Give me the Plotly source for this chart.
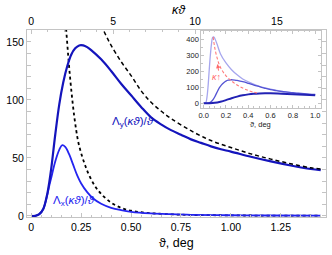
import plotly.graph_objects as go

# ---------------- main panel data ----------------
theta_y = [0.0, 0.02, 0.04, 0.06, 0.08, 0.09, 0.10, 0.12, 0.14, 0.16, 0.18, 0.20, 0.22, 0.24,
           0.26, 0.28, 0.30, 0.35, 0.40, 0.45, 0.50, 0.55, 0.60, 0.65, 0.70, 0.75, 0.80,
           0.85, 0.90, 0.95, 1.00, 1.10, 1.20, 1.30, 1.40, 1.45]
lambda_y = [0.0, 0.1, 1.5, 6.0, 19.0, 29.0, 41.0, 70.0, 96.0, 115.0, 129.0, 139.0, 144.5, 147.0,
            147.0, 145.5, 143.0, 135.0, 125.0, 114.0, 104.0, 94.0, 85.0, 79.0, 74.0, 70.0, 66.0,
            63.0, 60.0, 57.5, 55.5, 51.0, 47.0, 43.5, 40.5, 39.5]

theta_x = [0.0, 0.02, 0.04, 0.06, 0.08, 0.09, 0.10, 0.12, 0.14, 0.155, 0.17, 0.19, 0.21, 0.23,
           0.25, 0.28, 0.31, 0.35, 0.40, 0.45, 0.50, 0.60, 0.70, 0.80, 1.00, 1.20, 1.45]
lambda_x = [0.0, 0.1, 1.5, 6.0, 18.0, 26.0, 33.0, 47.0, 57.0, 61.0, 59.5, 53.0, 44.0, 35.0,
            28.0, 20.5, 15.0, 10.5, 7.0, 5.0, 3.6, 2.2, 1.5, 1.0, 0.6, 0.4, 0.3]

theta_dash = [0.33, 0.35, 0.36, 0.38, 0.40, 0.45, 0.50, 0.55, 0.60, 0.65, 0.70, 0.80, 0.90,
              1.00, 1.10, 1.20, 1.30, 1.40, 1.45]
asym_y = [176.0, 166.0, 161.0, 153.5, 147.0, 133.0, 121.0, 108.0, 98.0, 90.5, 84.0, 73.5, 65.0,
          59.0, 53.5, 49.0, 45.0, 41.5, 40.5]

theta_dot = [0.165, 0.175, 0.185, 0.195, 0.205, 0.215, 0.225, 0.235, 0.25, 0.27, 0.29, 0.32,
             0.35, 0.40, 0.45, 0.50, 0.55, 0.60, 0.70, 0.80, 1.00, 1.20, 1.45]
asym_x = [182.0, 160.0, 138.0, 118.0, 101.0, 86.0, 74.0, 64.0, 54.0, 43.5, 35.0, 25.5, 19.0,
          11.5, 7.0, 4.5, 3.2, 2.4, 1.4, 0.9, 0.5, 0.3, 0.2]

# ---------------- inset data ----------------
inset_theta_light = [0.0, 0.01, 0.02, 0.03, 0.04, 0.05, 0.06, 0.07, 0.08, 0.09, 0.10, 0.12,
                     0.15, 0.20, 0.25, 0.30, 0.35, 0.40, 0.50, 0.60, 0.70, 0.80, 0.90, 1.00]
inset_light = [0.0, 0.0, 5.0, 40.0, 110.0, 210.0, 300.0, 370.0, 410.0, 415.0, 405.0, 370.0,
               310.0, 252.0, 210.0, 178.0, 152.0, 134.0, 106.0, 88.0, 75.0, 65.0, 58.0, 52.0]

inset_theta_dark = [0.0, 0.05, 0.10, 0.15, 0.20, 0.25, 0.30, 0.35, 0.40, 0.45, 0.50, 0.55,
                    0.60, 0.70, 0.80, 0.90, 1.00]
inset_dark = [0.0, 0.5, 3.0, 10.0, 20.0, 32.0, 42.0, 50.0, 56.0, 60.0, 62.0, 63.0,
              62.5, 60.0, 57.0, 53.5, 50.0]

inset_theta_peak = [0.085, 0.10, 0.12, 0.15, 0.20, 0.25, 0.30, 0.35, 0.40, 0.45, 0.50]
inset_peak = [415.0, 345.0, 285.0, 225.0, 172.0, 140.0, 114.0, 95.0, 80.0, 69.0, 62.0]

# ---------------- ticks ----------------
bottom_ticks = [0, 0.25, 0.5, 0.75, 1.0, 1.25]
bottom_ticktext = ["0", "0.25", "0.50", "0.75", "1.00", "1.25"]
top_ticks = [0, 5, 10, 15]
y_ticks = [0, 50, 100, 150]
inset_x_ticks = [0, 0.2, 0.4, 0.6, 0.8, 1.0]
inset_x_ticktext = ["0.0", "0.2", "0.4", "0.6", "0.8", "1.0"]
inset_y_ticks = [0, 100, 200, 300, 400]

KAPPA = 12.19  # kappa (1/deg) relating top axis to bottom axis
X_RANGE = [-0.0215, 1.4765]
Y_RANGE = [-0.9, 160.3]

FONT = "Liberation Sans, Arial, sans-serif"
FRAME = "#c4c4c4"

fig = go.Figure()

# main curves
fig.add_trace(go.Scatter(x=theta_dot, y=asym_x, mode="lines", line=dict(color="black", width=1.8, dash="dot", shape="spline"),
                         xaxis="x", yaxis="y", hoverinfo="skip"))
fig.add_trace(go.Scatter(x=theta_x, y=lambda_x, mode="lines", line=dict(color="#2424f0", width=1.8, shape="spline"),
                         xaxis="x", yaxis="y"))
fig.add_trace(go.Scatter(x=theta_y, y=lambda_y, mode="lines", line=dict(color="#1414bc", width=2.2, shape="spline"),
                         xaxis="x", yaxis="y"))
fig.add_trace(go.Scatter(x=theta_dash, y=asym_y, mode="lines", line=dict(color="black", width=1.5, dash="4px,3px", shape="spline"),
                         xaxis="x", yaxis="y"))
# invisible trace for top axis
fig.add_trace(go.Scatter(x=[X_RANGE[0] * KAPPA, X_RANGE[1] * KAPPA], y=[0, 0], mode="lines",
                         line=dict(width=0, color="rgba(0,0,0,0)"), xaxis="x2", yaxis="y", hoverinfo="skip"))

# inset curves
inset_theta_mid = [t for t in theta_y if t <= 1.0]
inset_mid = lambda_y[:len(inset_theta_mid)]
fig.add_trace(go.Scatter(x=inset_theta_light, y=inset_light, mode="lines", line=dict(color="#a6a6ee", width=1.3, shape="spline"),
                         xaxis="x3", yaxis="y3"))
fig.add_trace(go.Scatter(x=inset_theta_mid, y=inset_mid, mode="lines", line=dict(color="#5454d4", width=1.3, shape="spline"),
                         xaxis="x3", yaxis="y3"))
fig.add_trace(go.Scatter(x=inset_theta_dark, y=inset_dark, mode="lines", line=dict(color="#2222b4", width=2.0, shape="spline"),
                         xaxis="x3", yaxis="y3"))
fig.add_trace(go.Scatter(x=inset_theta_peak, y=inset_peak, mode="lines", line=dict(color="#ff7a7a", width=1.1, dash="3px,2px", shape="spline"),
                         xaxis="x3", yaxis="y3"))

tickfont = dict(family=FONT, size=10.5, color="black")
inset_font = dict(family=FONT, size=7.5, color="#222222")

common = dict(showgrid=False, zeroline=False, showline=True, linecolor=FRAME, linewidth=1,
              ticks="inside", ticklen=4, tickcolor=FRAME, tickwidth=1)

fig.update_layout(
    width=332, height=255,
    margin=dict(l=26.7, r=6.3, t=30, b=38, pad=0),
    paper_bgcolor="white", plot_bgcolor="white",
    showlegend=False,
    xaxis=dict(domain=[0, 1], range=X_RANGE, anchor="y", side="bottom", tickvals=bottom_ticks,
               ticktext=bottom_ticktext, tickfont=tickfont, mirror=False,
               minor=dict(dtick=0.05, tick0=0, ticks="inside", ticklen=2, tickcolor=FRAME), **common),
    xaxis2=dict(overlaying="x", side="top", anchor="y", range=[X_RANGE[0] * KAPPA, X_RANGE[1] * KAPPA],
                tickvals=top_ticks, tickfont=tickfont,
                minor=dict(dtick=1, tick0=0, ticks="inside", ticklen=2, tickcolor=FRAME), **common),
    yaxis=dict(domain=[0, 1], range=Y_RANGE, anchor="x", tickvals=y_ticks, tickfont=tickfont,
               mirror="allticks",
               minor=dict(dtick=10, tick0=0, ticks="inside", ticklen=2, tickcolor=FRAME), **common),
    xaxis3=dict(domain=[0.583, 0.984], range=[-0.021, 1.054], anchor="y3", tickvals=inset_x_ticks,
                ticktext=inset_x_ticktext, tickfont=inset_font, mirror="allticks",
                minor=dict(dtick=0.05, tick0=0, ticks="inside", ticklen=1.5, tickcolor=FRAME),
                **{**common, "ticklen": 3}),
    yaxis3=dict(domain=[0.583, 0.995], range=[-29, 452], anchor="x3", tickvals=inset_y_ticks,
                tickfont=inset_font, mirror="allticks",
                minor=dict(dtick=50, tick0=0, ticks="inside", ticklen=1.5, tickcolor=FRAME),
                **{**common, "ticklen": 3}),
    annotations=[
        dict(text="ϑ, deg", xref="paper", yref="paper", x=0.5, y=-0.139, showarrow=False,
             font=dict(family=FONT, size=12.5, color="black"), xanchor="center", yanchor="middle"),
        dict(text="<i>κϑ</i>", xref="paper", yref="paper", x=0.51, y=1.107, showarrow=False,
             font=dict(family=FONT, size=12.5, color="black"), xanchor="center", yanchor="middle"),
        dict(text="Λ<sub>y</sub>(<i>κϑ</i>)/<i>ϑ</i>", xref="x", yref="y", x=0.51, y=81, showarrow=False,
             font=dict(family=FONT, size=11.5, color="#1414bc"), xanchor="center", yanchor="middle"),
        dict(text="Λ<sub>x</sub>(<i>κϑ</i>)/<i>ϑ</i>", xref="x", yref="y", x=0.215, y=13, showarrow=False,
             font=dict(family=FONT, size=11.5, color="#2424f0"), xanchor="center", yanchor="middle"),
        dict(text="ϑ, deg", xref="paper", yref="paper", x=0.78, y=(217 - 124) / 187, showarrow=False,
             font=dict(family=FONT, size=7.5, color="#222222"), xanchor="center", yanchor="middle"),
        dict(text="<i>κ</i>↑", xref="x3", yref="y3", x=0.113, y=165, showarrow=False,
             font=dict(family=FONT, size=9, color="#ff6a6a"), xanchor="center", yanchor="middle"),
        dict(text="", xref="x3", yref="y3", x=0.123, y=245, ax=0.136, ay=195, axref="x3", ayref="y3",
             showarrow=True, arrowhead=2, arrowsize=0.8, arrowwidth=1, arrowcolor="#ff6a6a"),
    ],
)

# remove the default 8px page margin so the figure fills the window exactly; hide the mode bar
fig.write_html("out.html", config={"displayModeBar": False},
               post_script="document.body.style.margin='0';")
